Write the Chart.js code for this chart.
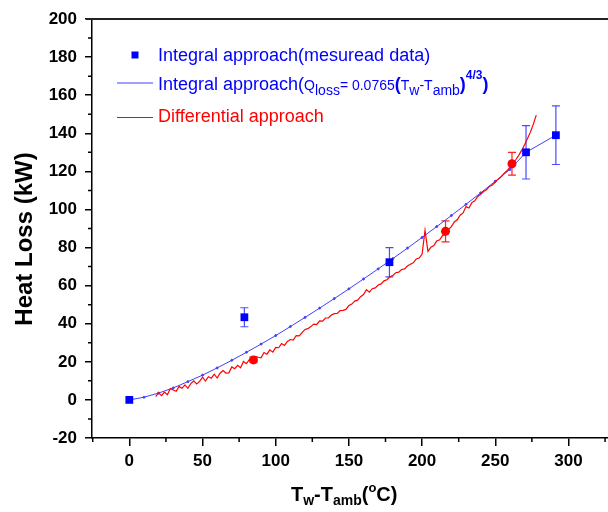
<!DOCTYPE html>
<html>
<head>
<meta charset="utf-8">
<script src="https://cdn.jsdelivr.net/npm/chart.js@4.4.0/dist/chart.umd.min.js"></script>
<style>
  body { margin: 0; background: #fff; }
</style>
</head>
<body>
<canvas id="chart" width="608" height="512"></canvas>
<script>
var FONT = "'Liberation Sans', Arial, sans-serif";

// measured points (blue squares) with error bars
var measuredX = [0, 78.6, 177.7, 271, 291.4];
var measuredY = [0, 43.4, 72.3, 130, 139];
var measuredErr = [0, 5, 7.7, 14, 15.4];

// differential approach points (red dots) with error bars
var diffPointX = [84.8, 216, 261.4];
var diffPointY = [21, 88.5, 124];
var diffPointErr = [1.5, 5.5, 6];

// integral approach fitted line
var fitX = [0, 10, 20, 30, 40, 50, 60, 70, 80, 90, 100, 110, 120, 130, 140, 150, 160, 170, 180, 190, 200, 210, 220, 230, 240, 250, 260, 271, 291.4];
var fitY = [0, 1.4, 3.6, 6.3, 9.6, 13, 16.8, 20.8, 25, 29.3, 33.8, 38.5, 43.3, 48.2, 53.2, 58.3, 63.5, 68.8, 74.2, 79.7, 85.3, 91, 96.8, 102.7, 108.7, 114.8, 121, 130, 139];

// differential approach curve
var diffX = [18, 20, 22, 24, 26, 28, 30, 32, 34, 36, 38, 40, 42, 44, 46, 48, 50, 52, 54, 56, 58, 60,
  62, 64, 66, 68, 70, 72, 74, 76, 78, 80, 82, 84, 86, 88, 90, 92, 94, 96, 98, 100,
  102, 104, 106, 108, 110, 112, 114, 116, 118, 120, 122, 124, 126, 128, 130, 132, 134, 136, 138, 140,
  142, 144, 146, 148, 150, 152, 154, 156, 158, 160, 162, 164, 166, 168, 170, 172, 174, 176, 178, 180,
  182, 184, 186, 188, 190, 192, 194, 196, 198, 200, 202, 204, 206, 208, 210, 212, 214, 216, 218, 220,
  222, 224, 226, 228, 230, 232, 234, 236, 238, 240, 242, 244, 246, 248, 250, 252, 254, 256, 258, 260,
  262, 264, 266, 268, 270, 272, 274, 276, 278];
var diffY = [1.7, 3.7, 2.2, 4.1, 2.7, 6.0, 5.2, 4.5, 7.1, 6.1, 7.9, 6.1, 8.6, 10.0, 8.4, 9.7, 11.9, 9.9, 12.2, 11.4, 13.5, 11.5,
  14.0, 15.4, 14.1, 14.2, 17.3, 16.4, 18.2, 16.9, 20.2, 19.0, 21.1, 19.9, 22.8, 22.4, 22.1, 24.9, 24.0, 26.3, 25.1, 27.6,
  27.4, 29.6, 28.6, 30.7, 31.7, 31.4, 33.8, 33.6, 35.3, 37.0, 37.4, 38.5, 39.8, 39.6, 41.5, 41.4, 43.0, 43.1, 44.6, 45.3,
  45.4, 46.9, 47.0, 47.5, 49.6, 50.3, 51.9, 52.4, 54.2, 55.3, 57.9, 56.6, 58.4, 58.8, 60.3, 60.9, 62.5, 63.1, 64.6, 65.3,
  66.8, 67.1, 68.5, 68.8, 70.3, 71.2, 72.0, 74.0, 74.5, 76.6, 89.0, 78.0, 80.2, 81.0, 83.4, 84.1, 86.3, 86.9, 89.5, 91.0,
  93.4, 94.6, 97.0, 98.2, 101.5, 100.8, 103.6, 104.5, 106.8, 108.0, 109.4, 110.3, 112.1, 112.8, 114.4, 115.9, 117.2, 118.9, 120.3, 122.2,
  124.0, 126.1, 128.4, 131.0, 134.0, 137.2, 140.6, 144.8, 149.5];

var xTicks = [0, 50, 100, 150, 200, 250, 300];
var xMinorTicks = [-25, 25, 75, 125, 175, 225, 275, 325];
var yTicks = [-20, 0, 20, 40, 60, 80, 100, 120, 140, 160, 180, 200];
var yMinorTicks = [-10, 10, 30, 50, 70, 90, 110, 130, 150, 170, 190];

function pairs(xs, ys) {
    return xs.map(function (x, i) { return { x: x, y: ys[i] }; });
}

function drawRich(ctx, x, y, parts) {
    parts.forEach(function (p) {
        ctx.font = p[1];
        ctx.fillText(p[0], x, y + p[2]);
        x += ctx.measureText(p[0]).width;
    });
}

var errorBars = {
    id: 'errorBars',
    beforeDatasetsDraw: function (chart) {
        var ctx = chart.ctx, xs = chart.scales.x, ys = chart.scales.y;
        function draw(px, py, pe, color) {
            ctx.save();
            ctx.strokeStyle = color;
            ctx.lineWidth = 1.2;
            px.forEach(function (v, i) {
                if (!pe[i]) return;
                var cx = xs.getPixelForValue(v);
                var top = ys.getPixelForValue(py[i] + pe[i]);
                var bot = ys.getPixelForValue(py[i] - pe[i]);
                ctx.beginPath();
                ctx.moveTo(cx, top); ctx.lineTo(cx, bot);
                ctx.moveTo(cx - 4, top); ctx.lineTo(cx + 4, top);
                ctx.moveTo(cx - 4, bot); ctx.lineTo(cx + 4, bot);
                ctx.stroke();
            });
            ctx.restore();
        }
        draw(measuredX, measuredY, measuredErr, '#4a4aff');
        draw(diffPointX, diffPointY, diffPointErr, '#ff2020');
    }
};

var decorations = {
    id: 'decorations',
    afterDraw: function (chart) {
        var ctx = chart.ctx, a = chart.chartArea, xs = chart.scales.x, ys = chart.scales.y;
        ctx.save();
        // top border
        ctx.strokeStyle = '#222';
        ctx.lineWidth = 2;
        ctx.beginPath();
        ctx.moveTo(a.left - 6, a.top); ctx.lineTo(chart.width, a.top);
        ctx.stroke();
        // minor ticks
        ctx.strokeStyle = '#000';
        ctx.lineWidth = 1.5;
        ctx.beginPath();
        xMinorTicks.forEach(function (v) {
            var px = xs.getPixelForValue(v);
            ctx.moveTo(px, a.bottom); ctx.lineTo(px, a.bottom + 4);
        });
        yMinorTicks.forEach(function (v) {
            var py = ys.getPixelForValue(v);
            ctx.moveTo(a.left, py); ctx.lineTo(a.left - 4, py);
        });
        ctx.stroke();

        // y title
        ctx.fillStyle = '#000';
        ctx.save();
        ctx.translate(32, 239);
        ctx.rotate(-Math.PI / 2);
        ctx.textAlign = 'center';
        ctx.font = 'bold 24px ' + FONT;
        ctx.fillText('Heat Loss (kW)', 0, 0);
        ctx.restore();

        // x title
        ctx.textAlign = 'left';
        drawRich(ctx, 291, 501, [
            ['T', 'bold 20px ' + FONT, 0],
            ['w', 'bold 14px ' + FONT, 4],
            ['-T', 'bold 20px ' + FONT, 0],
            ['amb', 'bold 14px ' + FONT, 4],
            ['(', 'bold 20px ' + FONT, 0],
            ['o', 'bold 13px ' + FONT, -9],
            ['C)', 'bold 20px ' + FONT, 0]
        ]);

        // legend
        ctx.fillStyle = '#0000ff';
        ctx.fillRect(131.5, 51.5, 7, 7);
        drawRich(ctx, 158, 60.5, [['Integral approach(mesuread data)', '18px ' + FONT, 0]]);

        ctx.strokeStyle = '#4040ff';
        ctx.lineWidth = 1;
        ctx.beginPath();
        ctx.moveTo(117, 83); ctx.lineTo(153, 83);
        ctx.stroke();
        drawRich(ctx, 158, 90, [
            ['Integral approach(', '18px ' + FONT, 0],
            ['Q', '14px ' + FONT, 0],
            ['loss', '14px ' + FONT, 5],
            ['= 0.0765', '14px ' + FONT, 0],
            ['(', 'bold 18px ' + FONT, 0],
            ['T', '14px ' + FONT, 0],
            ['w', '14px ' + FONT, 5],
            ['-T', '14px ' + FONT, 0],
            ['amb', '14px ' + FONT, 5],
            [')', 'bold 18px ' + FONT, 0],
            ['4/3', 'bold 12px ' + FONT, -11],
            [')', 'bold 18px ' + FONT, 0]
        ]);

        ctx.strokeStyle = '#ff0000';
        ctx.beginPath();
        ctx.moveTo(117, 117.5); ctx.lineTo(153, 117.5);
        ctx.stroke();
        ctx.fillStyle = '#ff0000';
        drawRich(ctx, 158, 121.5, [['Differential approach', '18px ' + FONT, 0]]);
        ctx.restore();
    }
};

var ctx = document.getElementById('chart').getContext('2d');
var chart = new Chart(ctx, {
    type: 'scatter',
    data: {
        datasets: [{
            label: 'Integral approach(mesuread data)',
            data: pairs(measuredX, measuredY),
            pointStyle: 'rect',
            pointRadius: 5.5,
            backgroundColor: '#0000ff',
            borderColor: '#0000ff',
            borderWidth: 0
        },
        {
            label: 'Differential points',
            data: pairs(diffPointX, diffPointY),
            pointStyle: 'circle',
            pointRadius: 4.5,
            backgroundColor: '#ff0000',
            borderColor: '#ff0000',
            borderWidth: 0
        },
        {
            label: 'Differential approach',
            data: pairs(diffX, diffY),
            showLine: true,
            pointRadius: 0,
            borderColor: '#ff0000',
            borderWidth: 1.2,
            tension: 0
        },
        {
            label: 'Integral approach',
            data: pairs(fitX, fitY),
            showLine: true,
            pointRadius: 1,
            backgroundColor: '#4040ff',
            borderColor: '#4040ff',
            borderWidth: 1,
            tension: 0
        }]
    },
    options: {
        responsive: false,
        animation: false,
        layout: { autoPadding: false, padding: { top: 19, right: 0, left: 0, bottom: 0 } },
        plugins: {
            legend: { display: false },
            tooltip: { enabled: false }
        },
        scales: {
            x: {
                type: 'linear',
                min: -25.5,
                max: 327,
                afterBuildTicks: function (s) { s.ticks = xTicks.map(function (v) { return { value: v }; }); },
                afterFit: function (s) { s.height = 74; s.paddingLeft = 0; s.paddingRight = 0; },
                grid: { drawOnChartArea: false, tickLength: 8, color: '#000', lineWidth: 1.5 },
                border: { color: '#000', width: 1.5 },
                ticks: { color: '#000', padding: 5, maxRotation: 0, font: { family: FONT, size: 17, weight: 'bold' } }
            },
            y: {
                min: -20,
                max: 200,
                afterBuildTicks: function (s) { s.ticks = yTicks.map(function (v) { return { value: v }; }); },
                afterFit: function (s) { s.width = 92; s.paddingTop = 0; s.paddingBottom = 0; },
                grid: { drawOnChartArea: false, tickLength: 7, color: '#000', lineWidth: 1.5 },
                border: { color: '#000', width: 1.5 },
                ticks: { color: '#000', padding: 8, font: { family: FONT, size: 17, weight: 'bold' } }
            }
        }
    },
    plugins: [errorBars, decorations]
});
</script>
</body>
</html>
